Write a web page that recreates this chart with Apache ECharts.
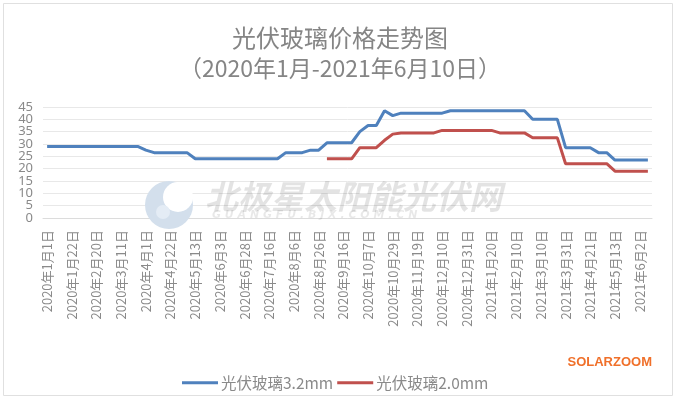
<!DOCTYPE html>
<html>
<head>
<meta charset="utf-8">
<title>光伏玻璃价格走势图</title>
<script src="https://cdn.jsdelivr.net/npm/echarts@6/dist/echarts.min.js"></script>
<style>
  html, body { margin: 0; padding: 0; background: #fff; }
  #main { width: 680px; height: 399px; }
</style>
</head>
<body>
<div id="main"></div>
<script>
// 日期（每周一个点，横轴每隔3个显示一个）
var dates = [
  '2020年1月1日', '2020年1月8日', '2020年1月15日', '2020年1月22日', '2020年2月6日', '2020年2月13日',
  '2020年2月20日', '2020年2月26日', '2020年3月4日', '2020年3月11日', '2020年3月18日', '2020年3月25日',
  '2020年4月1日', '2020年4月8日', '2020年4月15日', '2020年4月22日', '2020年4月29日', '2020年5月6日',
  '2020年5月13日', '2020年5月20日', '2020年5月27日', '2020年6月3日', '2020年6月10日', '2020年6月17日',
  '2020年6月28日', '2020年7月2日', '2020年7月9日', '2020年7月16日', '2020年7月23日', '2020年7月30日',
  '2020年8月6日', '2020年8月13日', '2020年8月20日', '2020年8月26日', '2020年9月2日', '2020年9月9日',
  '2020年9月16日', '2020年9月23日', '2020年9月30日', '2020年10月7日', '2020年10月15日', '2020年10月22日',
  '2020年10月29日', '2020年11月5日', '2020年11月12日', '2020年11月19日', '2020年11月26日', '2020年12月3日',
  '2020年12月10日', '2020年12月17日', '2020年12月24日', '2020年12月31日', '2021年1月7日', '2021年1月14日',
  '2021年1月20日', '2021年1月27日', '2021年2月3日', '2021年2月10日', '2021年2月24日', '2021年3月3日',
  '2021年3月10日', '2021年3月17日', '2021年3月24日', '2021年3月31日', '2021年4月7日', '2021年4月14日',
  '2021年4月21日', '2021年4月28日', '2021年5月7日', '2021年5月13日', '2021年5月20日', '2021年5月27日',
  '2021年6月2日', '2021年6月10日'
];

// 光伏玻璃3.2mm
var glass32 = [
  29, 29, 29, 29, 29, 29, 29, 29, 29, 29, 29, 29,
  27.5, 26.5, 26.5, 26.5, 26.5, 26.5,
  24, 24, 24, 24, 24, 24, 24, 24, 24, 24, 24,
  26.5, 26.5, 26.5, 27.5, 27.5,
  30.5, 30.5, 30.5, 30.5, 35, 37.5, 37.5,
  43.5, 41.5, 42.5, 42.5, 42.5, 42.5, 42.5, 42.5,
  43.5, 43.5, 43.5, 43.5, 43.5, 43.5, 43.5, 43.5, 43.5, 43.5,
  40, 40, 40, 40,
  28.5, 28.5, 28.5, 28.5, 26.5, 26.5,
  23.5, 23.5, 23.5, 23.5, 23.5
];

// 光伏玻璃2.0mm（9月开始有报价）
var glass20 = [
  null, null, null, null, null, null, null, null, null, null, null, null,
  null, null, null, null, null, null, null, null, null, null, null, null,
  null, null, null, null, null, null, null, null, null, null,
  24, 24, 24, 24, 28.5, 28.5, 28.5, 31.5, 34,
  34.5, 34.5, 34.5, 34.5, 34.5,
  35.5, 35.5, 35.5, 35.5, 35.5, 35.5, 35.5,
  34.5, 34.5, 34.5, 34.5,
  32.5, 32.5, 32.5, 32.5,
  22, 22, 22, 22, 22, 22,
  19, 19, 19, 19, 19
];

var yTicks = { min: 0, max: 45, step: 5 };

var myChart = echarts.init(document.getElementById('main'));
var cjk = '"Noto Sans CJK SC", "Noto Sans", sans-serif';
var blue = '#4F81BD', red = '#C0504D';

// 纵轴刻度太密，拆成两个轴分别显示 0,10,20... 和 5,15,25...，避免被自动隐藏
function yLabel(even) {
  return {
    margin: 10,
    fontFamily: '"Noto Sans", sans-serif',
    fontSize: 13,
    color: '#8a8a8a',
    showMinLabel: even,
    showMaxLabel: !even,
    formatter: function (v) {
      return ((v / yTicks.step) % 2 === 0) === even ? String(v) : '';
    }
  };
}

myChart.setOption({
  backgroundColor: '#fff',
  animation: false,
  title: [
    {
      text: '光伏玻璃价格走势图',
      left: 'center',
      top: 18,
      textStyle: { fontFamily: cjk, fontSize: 24, fontWeight: 'normal', color: '#858585', lineHeight: 30 }
    },
    {
      text: '（2020年1月-2021年6月10日）',
      left: 'center',
      top: 48,
      textStyle: { fontFamily: cjk, fontSize: 23, fontWeight: 'normal', color: '#858585', lineHeight: 30 }
    }
  ],
  legend: {
    left: 177,
    top: 370,
    itemGap: 4,
    itemWidth: 36,
    itemHeight: 3,
    icon: 'rect',
    textStyle: { fontFamily: cjk, fontSize: 15.5, color: '#8a8a8a', padding: [0, 0, 0, -2] },
    data: ['光伏玻璃3.2mm', '光伏玻璃2.0mm']
  },
  grid: {
    left: 43,
    right: 28,
    top: 107,
    bottom: 181
  },
  xAxis: {
    type: 'category',
    data: dates,
    boundaryGap: true,
    axisLine: { show: true, lineStyle: { color: '#dcdcdc' } },
    axisTick: { show: false },
    axisLabel: {
      interval: 2,
      rotate: 90,
      margin: 12,
      fontFamily: cjk,
      fontSize: 13,
      color: '#8a8a8a'
    }
  },
  yAxis: [
    {
      type: 'value',
      position: 'left',
      min: yTicks.min,
      max: yTicks.max,
      interval: yTicks.step,
      axisLine: { show: false },
      axisTick: { show: false },
      splitLine: { lineStyle: { color: '#e8e8e8' } },
      axisLabel: yLabel(true)
    },
    {
      type: 'value',
      position: 'left',
      min: yTicks.min,
      max: yTicks.max,
      interval: yTicks.step,
      axisLine: { show: false },
      axisTick: { show: false },
      splitLine: { show: false },
      axisLabel: yLabel(false)
    }
  ],
  // 水印和角标
  graphic: [
    { type: 'circle', z: 1, shape: { cx: 169, cy: 205, r: 24 }, style: { fill: '#d3dfec' } },
    { type: 'circle', z: 1, shape: { cx: 178, cy: 197, r: 15 }, style: { fill: '#ffffff' } },
    { type: 'circle', z: 1, shape: { cx: 163, cy: 212, r: 7 }, style: { fill: '#e4ecf5' } },
    {
      type: 'text', z: 1, left: 205, top: 180,
      style: { text: '北极星太阳能光伏网', fill: 'rgba(0,0,0,0.11)', font: 'italic bold 33px "Noto Sans CJK SC"' }
    },
    {
      type: 'text', z: 1, left: 212, top: 210,
      style: { text: 'G U A N G F U . B J X . C O M . C N', fill: 'rgba(0,0,0,0.09)', font: 'italic bold 11px "DejaVu Sans"' }
    },
    {
      type: 'text', right: 28, top: 356,
      style: { text: 'SOLARZOOM', fill: '#F0702A', font: 'bold 13px "Liberation Sans"' }
    },
    {
      type: 'rect', z: 0, silent: true,
      shape: { x: 3.5, y: 3.5, width: 669, height: 392 },
      style: { fill: 'none', stroke: '#e0e0e0', lineWidth: 1 }
    }
  ],
  series: [
    {
      name: '光伏玻璃3.2mm',
      type: 'line',
      data: glass32,
      showSymbol: false,
      z: 3,
      itemStyle: { color: blue },
      lineStyle: { color: blue, width: 3 }
    },
    {
      name: '光伏玻璃2.0mm',
      type: 'line',
      data: glass20,
      showSymbol: false,
      z: 3,
      itemStyle: { color: red },
      lineStyle: { color: red, width: 3 }
    }
  ]
});
</script>
</body>
</html>
